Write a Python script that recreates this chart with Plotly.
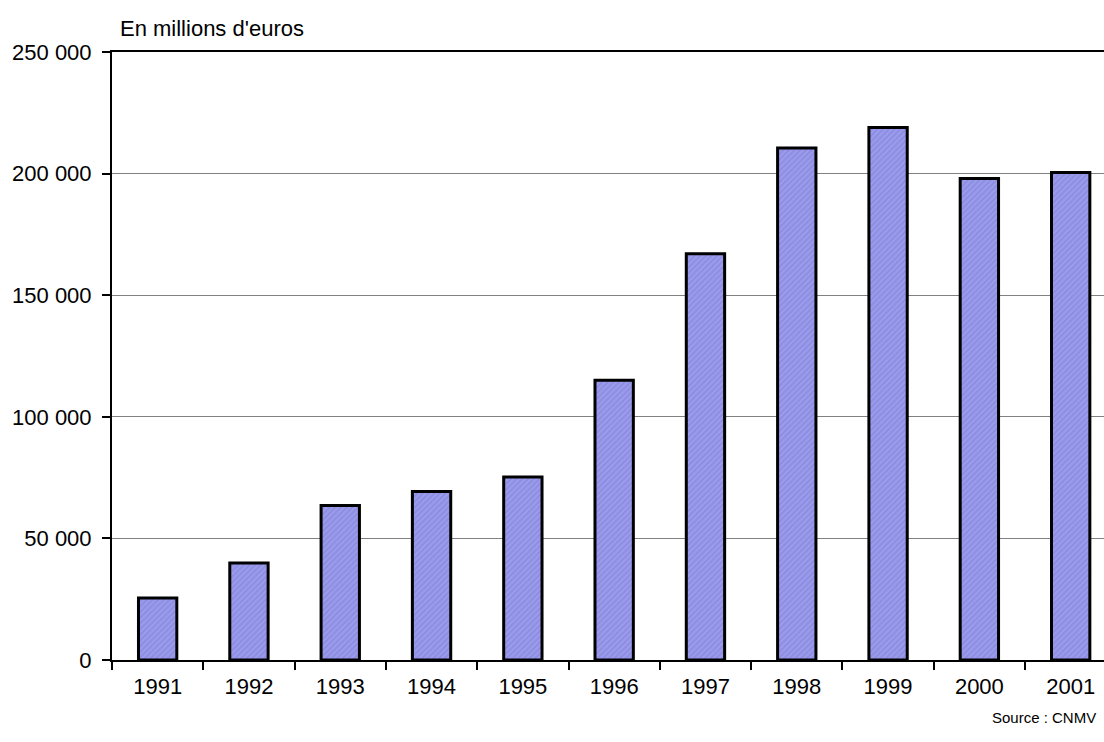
import plotly.graph_objects as go

# Capitalisation (en millions d'euros)
annees = ["1991", "1992", "1993", "1994", "1995", "1996",
          "1997", "1998", "1999", "2000", "2001"]
valeurs = [25500, 39900, 63500, 69300, 75200, 115000,
           167000, 210500, 219000, 198000, 200500]
ticks_y = [0, 50000, 100000, 150000, 200000, 250000]

police = "Liberation Sans Narrow, Arial Narrow, Liberation Sans, Arial, sans-serif"

fig = go.Figure()

fig.add_trace(go.Bar(
    x=annees,
    y=valeurs,
    width=0.42,
    marker=dict(
        color="#9a9aee",
        line=dict(color="black", width=3),
        pattern=dict(shape="/", bgcolor="#9a9aee", fgcolor="#7a7ac6",
                     size=4, solidity=0.35, fillmode="overlay"),
    ),
    hoverinfo="x+y",
))

fig.update_layout(
    width=1104,
    height=742,
    margin=dict(l=112, r=0, t=52, b=82),
    plot_bgcolor="white",
    paper_bgcolor="white",
    showlegend=False,
    separators=", ",
    font=dict(family=police, size=22, color="black"),
)

fig.update_xaxes(
    type="category",
    range=[-0.5, 10.365],
    showgrid=False,
    showline=True,
    linecolor="black",
    linewidth=2,
    mirror=True,
    ticks="outside",
    tickson="boundaries",
    ticklen=8,
    tickwidth=1.5,
    tickcolor="black",
    ticklabelstandoff=6,
)

fig.update_yaxes(
    range=[0, 250000],
    tickvals=ticks_y,
    tickformat=",d",
    showgrid=True,
    gridcolor="#808080",
    gridwidth=1,
    zeroline=False,
    showline=True,
    linecolor="black",
    linewidth=2,
    ticks="outside",
    ticklen=8,
    tickwidth=1.5,
    tickcolor="black",
    ticklabelstandoff=6,
)

fig.add_annotation(
    text="En millions d'euros",
    xref="paper", yref="paper",
    x=0.006, y=1.039,
    xanchor="left", yanchor="middle",
    showarrow=False,
    font=dict(size=22),
)

fig.add_annotation(
    text="Source : CNMV",
    xref="paper", yref="paper",
    x=0.994, y=-0.095,
    xanchor="right", yanchor="middle",
    showarrow=False,
    font=dict(size=15),
)

# pas de marge autour du graphique dans la page, pas de barre d'outils
fig.write_html(
    "out.html",
    config={"displayModeBar": False},
    post_script="document.body.style.margin='0';",
)
